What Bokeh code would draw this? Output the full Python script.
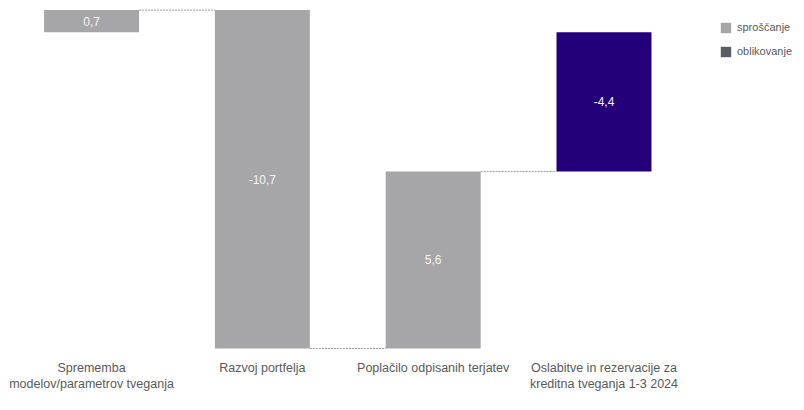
from bokeh.plotting import figure
from bokeh.models import ColumnDataSource, FixedTicker, Legend, LegendItem, Range1d
from bokeh.core.properties import value
from bokeh.embed import file_html
from bokeh.resources import INLINE

categories = ["Sprememba\nmodelov/parametrov tveganja", "Razvoj portfelja",
              "Poplačilo odpisanih terjatev",
              "Oslabitve in rezervacije za\nkreditna tveganja 1-3 2024"]
steps = [0.7, -10.7, 5.6]
legend_labels = ["sproščanje", "oblikovanje"]

GRAY = "#a6a6a9"
DARK = "#5a5d63"
PURPLE = "#23007a"
TXT = "#595959"
W = 0.556

total = round(sum(steps), 1)
xs = list(range(len(categories)))
bottoms, tops = [], []
run = 0.0
for v in steps:
    bottoms.append(run)
    run = round(run + v, 1)
    tops.append(run)

def fmt(v):
    return f"{v:.1f}".replace(".", ",")

step_src = ColumnDataSource(dict(
    x=xs[:3], bottom=bottoms, top=tops,
    mid=[(b + t) / 2 for b, t in zip(bottoms, tops)],
    lab=[fmt(v) for v in steps]))
tot_src = ColumnDataSource(dict(x=[xs[3]], bottom=[0.0], top=[total],
                                mid=[total / 2], lab=[fmt(total)]))

p = figure(width=796, height=394, output_backend="svg", toolbar_location=None,
           x_range=Range1d(-0.533, 4.127), y_range=Range1d(-10.03, 1.003),
           min_border_left=0, min_border_right=0, min_border_top=0,
           min_border_bottom=30, y_axis_location=None)
p.outline_line_color = None
p.xgrid.visible = False
p.ygrid.visible = False

r_gray = p.vbar(x="x", bottom="bottom", top="top", width=W, source=step_src,
                fill_color=GRAY, line_color=None)
# no bar of the "oblikovanje" kind: zero-height bars only feed the legend swatch
r_dark = p.vbar(x="x", bottom="bottom", top="bottom", width=W, source=step_src,
                fill_color=DARK, line_color=None)
p.vbar(x="x", bottom="bottom", top="top", width=W, source=tot_src,
       fill_color=PURPLE, line_color=None)

# connectors
for i, lvl in enumerate(tops):
    p.segment(x0=[xs[i] + W / 2], x1=[xs[i + 1] - W / 2], y0=[lvl], y1=[lvl],
              line_color="#9a9a9a", line_width=1, line_dash="2 1")

for src in (step_src, tot_src):
    p.text(x="x", y="mid", text="lab", source=src, text_color="#f4f4f4",
           text_font=value("Liberation Sans"), text_font_size="12px",
           text_align="center", text_baseline="middle")

ax = p.xaxis[0]
ax.ticker = FixedTicker(ticks=xs)
ax.major_label_overrides = {i: c for i, c in zip(xs, categories)}
ax.axis_line_color = None
ax.major_tick_line_color = None
ax.minor_tick_line_color = None
ax.major_label_text_font = "Liberation Sans"
ax.major_label_text_font_size = "12.5px"
ax.major_label_text_color = TXT
ax.major_label_standoff = 5

legend = Legend(items=[LegendItem(label=legend_labels[0], renderers=[r_gray]),
                       LegendItem(label=legend_labels[1], renderers=[r_dark])],
                location=(719, 288), orientation="vertical",
                glyph_width=13, glyph_height=13, label_height=20,
                spacing=4, padding=0, margin=0, label_standoff=5,
                label_text_font="Liberation Sans", label_text_font_size="11px",
                label_text_color=TXT, border_line_color=None,
                background_fill_alpha=0)
p.add_layout(legend)

open("out.html", "w").write(file_html(p, INLINE))
